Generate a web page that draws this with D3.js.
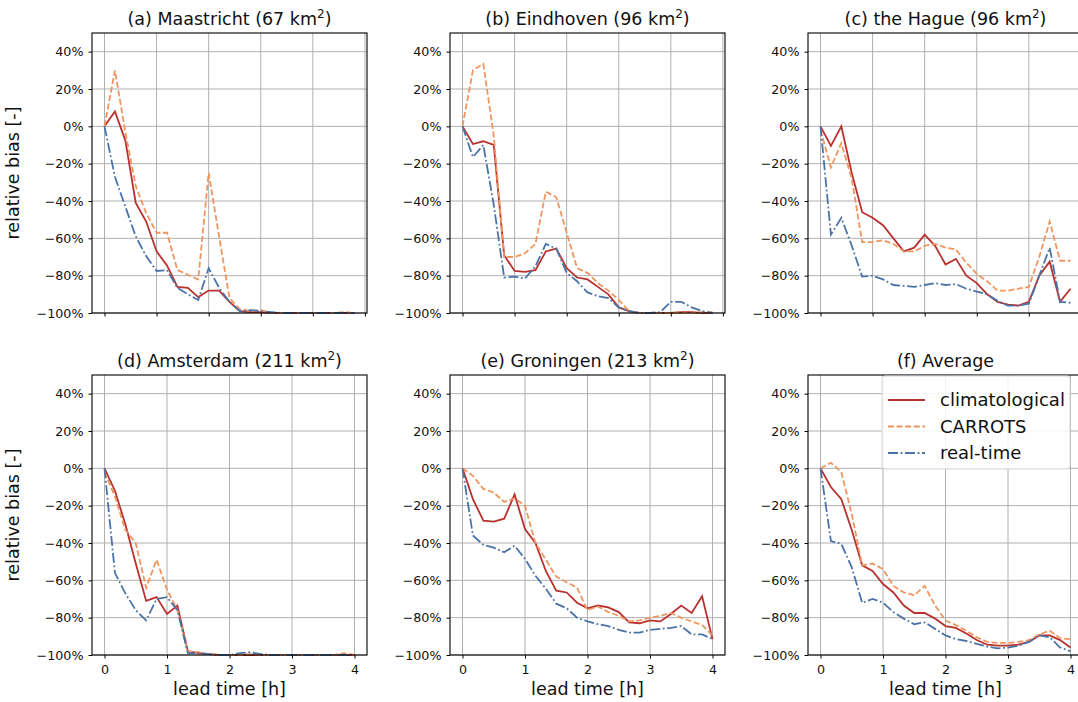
<!DOCTYPE html>
<html>
<head>
    <title>Relative bias per city</title>
    <script src="https://cdnjs.cloudflare.com/ajax/libs/d3/7.8.5/d3.min.js"></script>
    <style>
        body { margin: 0; background: #fff; }
        svg text { font-family: 'DejaVu Sans', sans-serif; fill: #111; }
    </style>
</head>
<body>
<div id="chart"></div>
<script>
//------------------------------------DATA--------------------------------
// lead time in minutes, 10 minute steps
var leadMinutes = [0, 10, 20, 30, 40, 50, 60, 70, 80, 90, 100, 110, 120,
                   130, 140, 150, 160, 170, 180, 190, 200, 210, 220, 230, 240];

var panelTitles = ["(a) Maastricht (67 km", "(b) Eindhoven (96 km", "(c) the Hague (96 km",
                   "(d) Amsterdam (211 km", "(e) Groningen (213 km", "(f) Average"];
var panelSup = ["2", "2", "2", "2", "2", ""];

var seriesNames = ["climatological", "CARROTS", "real-time"];
var yTicks = [-100, -80, -60, -40, -20, 0, 20, 40];
var xTicksBottom = [0, 1, 2, 3, 4];           // hours, labelled
var xTicksTop = [0, 5, 10, 15, 20, 25];       // step index, top row (unlabelled)

// relative bias in %
var climMaastricht = [0, 8, -7.5, -41, -51, -67, -74.5, -86, -86.5, -91.5, -88, -88, -94, -99, -99.5, -99.5, -100, -100, -100, -100, -100, -100, -100, -100, -100];
var carrotsMaastricht = [0, 30, -3, -32, -46.5, -57, -57, -77, -79.5, -82, -25, -59, -92, -98, -99, -98.5, -100, -100, -100, -100, -100, -100, -100, -99.5, -100];
var realMaastricht = [0, -27, -43, -59, -69.5, -77.5, -77, -86.5, -90, -93, -76, -86.5, -94, -99, -98.5, -99, -99.5, -100, -100, -100, -100, -100, -100, -100, -100];

var climEindhoven = [0, -9.5, -8, -10, -69, -77.5, -78, -77, -67, -65.5, -76, -81, -82, -86, -90, -97, -99, -100, -100, -100, -100, -99.5, -99.5, -100, -100];
var carrotsEindhoven = [0, 30, 33.5, -5, -70, -70, -68, -63, -35, -38, -57, -76, -78.5, -84, -88, -93, -99, -100, -100, -100, -100, -100, -100, -99.5, -99.5];
var realEindhoven = [0, -16.5, -10, -42, -81, -80.5, -81.5, -75, -63, -65.5, -78.5, -83, -89, -91, -92, -97, -99, -100, -100, -99.5, -94, -94, -97, -99, -100];

var climHague = [0, -10.5, 0, -25, -46, -49, -53, -60, -67, -65, -58, -64, -74, -71, -80, -84, -90, -94, -95.5, -96, -94, -80, -72.5, -94, -87];
var carrotsHague = [-2, -22, -9, -28, -62, -62, -61, -63, -67, -67, -64, -63, -65, -66, -73, -79, -83, -88, -88, -87, -86, -70, -51, -72, -72];
var realHague = [0, -58, -49, -64, -80.5, -80, -82, -85, -85.5, -86, -85, -84, -85, -84.5, -87, -88.5, -90, -93.5, -96, -96, -95, -80, -65, -94, -94.5];

var climAmsterdam = [0, -12, -30, -51, -71, -69, -78, -73.5, -98, -99, -99.5, -100, -100, -100, -100, -100, -100, -100, -100, -100, -100, -100, -100, -100, -100];
var carrotsAmsterdam = [-2, -15, -33, -40, -64, -49, -65, -76, -98, -98.5, -99.5, -100, -100, -100, -99.5, -100, -100, -100, -100, -100, -100, -100, -100, -99, -100];
var realAmsterdam = [0, -56, -67, -76, -81.5, -70, -69, -76, -99, -99, -99.5, -100, -100, -99, -98.5, -99.5, -100, -100, -100, -100, -100, -100, -100, -100, -100];

var climGroningen = [0, -16.5, -28, -28.5, -27, -14, -32.5, -40, -55, -65.5, -66.5, -72, -75, -73.5, -74.5, -77, -82.5, -83, -81.5, -82, -78, -73.5, -77.5, -68.5, -91.5];
var carrotsGroningen = [0, -4, -11, -13, -18, -16, -20, -40, -49, -58, -61, -64, -76, -74, -77, -79, -82, -81.5, -80, -79, -77.5, -80, -82, -84, -89.5];
var realGroningen = [0, -36, -41, -42.5, -45, -41.5, -48.5, -57.5, -64.5, -72.5, -75, -80, -82, -83.5, -84.5, -86.5, -88, -88, -86.5, -86, -85.5, -84.5, -89, -89, -91.5];

var climAverage = [0, -10, -16.5, -33, -52, -55, -62, -66.5, -73.5, -77.5, -77.5, -80.5, -84.5, -85.5, -88.5, -92, -94.5, -95, -95, -94.5, -93, -89.5, -89.5, -92, -96];
var carrotsAverage = [0, 3, -2, -24.5, -52, -51, -54, -63, -66.5, -68, -63, -73.5, -81.5, -84, -87, -90.5, -93, -93.5, -93.5, -93, -92, -89, -87, -91, -91.5];
var realAverage = [0, -39, -40.5, -53, -72, -70, -72, -77, -80.5, -83.5, -82.5, -86, -89.5, -91.5, -92.5, -94, -95.5, -96.5, -96, -95, -93, -89.5, -90.5, -96, -98];

var panelData = [
    [climMaastricht, carrotsMaastricht, realMaastricht],
    [climEindhoven, carrotsEindhoven, realEindhoven],
    [climHague, carrotsHague, realHague],
    [climAmsterdam, carrotsAmsterdam, realAmsterdam],
    [climGroningen, carrotsGroningen, realGroningen],
    [climAverage, carrotsAverage, realAverage]
];
//------------------------------------FINISHED--------------------------------


//------------------------------------STYLES & LAYOUT--------------------------------
var colors = ["#b8312f", "#ef9660", "#4a74a8"];
var dashes = [null, "6,2.6", "10,2.6,1.8,2.6"];

var colLeft = [92, 450, 808],
    rowTop = [33, 375],
    pw = 275,
    ph = 280;

var svg = d3.select("#chart").append("svg")
    .attr("width", 1078)
    .attr("height", 702);

// shared scales (same for every panel, translated per panel)
var x = d3.scaleLinear().domain([-0.2, 4.2]).range([0, pw]);
var y = d3.scaleLinear().domain([-100, 50]).range([ph, 0]);

var line = d3.line()
    .x(function (d, i) { return x(leadMinutes[i] / 60); })
    .y(function (d) { return y(d); });
//------------------------------------FINISHED--------------------------------


//------------------------------------MAKES THE PANELS--------------------------------
panelData.forEach(function (series, p) {
    var row = Math.floor(p / 3), col = p % 3;
    var g = svg.append("g")
        .attr("transform", "translate(" + colLeft[col] + "," + rowTop[row] + ")");

    // x positions of vertical grid (top row uses step index ticks)
    var xGridHours = row === 0
        ? xTicksTop.map(function (k) { return leadMinutes[1] * k / 60; })
        : xTicksBottom;

    // grid
    g.append("g").selectAll("line.gy").data(yTicks).enter().append("line")
        .attr("x1", 0).attr("x2", pw)
        .attr("y1", function (d) { return y(d); })
        .attr("y2", function (d) { return y(d); })
        .attr("stroke", "#b0b0b0").attr("stroke-width", 1);
    g.append("g").selectAll("line.gx").data(xGridHours).enter().append("line")
        .attr("x1", function (d) { return x(d); })
        .attr("x2", function (d) { return x(d); })
        .attr("y1", 0).attr("y2", ph)
        .attr("stroke", "#b0b0b0").attr("stroke-width", 1);

    // lines
    series.forEach(function (vals, s) {
        g.append("path")
            .datum(vals)
            .attr("fill", "none")
            .attr("stroke", colors[s])
            .attr("stroke-width", 1.8)
            .attr("stroke-dasharray", dashes[s])
            .attr("d", line);
    });

    // y axis
    var yAx = g.append("g")
        .call(d3.axisLeft(y).tickValues(yTicks).tickSize(3.5).tickPadding(5)
            .tickFormat(function (d) { return (d < 0 ? "\u2212" + (-d) : d) + "%"; }));
    // x axis
    var xAx = g.append("g")
        .attr("transform", "translate(0," + ph + ")");
    if (row === 1) {
        xAx.call(d3.axisBottom(x).tickValues(xTicksBottom).tickSize(3.5).tickPadding(6)
            .tickFormat(d3.format("d")));
    } else {
        xAx.call(d3.axisBottom(x).tickValues(xGridHours).tickSize(3.5).tickFormat(""));
    }
    [yAx, xAx].forEach(function (a) {
        a.select(".domain").remove();
        a.selectAll(".tick line").attr("stroke", "#000").attr("stroke-width", 1);
        a.selectAll(".tick text").attr("font-size", "12.7px")
            .style("font-family", "'DejaVu Sans', sans-serif").attr("fill", "#111");
    });

    // frame
    g.append("rect")
        .attr("width", pw).attr("height", ph)
        .attr("fill", "none").attr("stroke", "#000").attr("stroke-width", 1.1);

    // title
    var t = g.append("text")
        .attr("x", pw / 2).attr("y", -8)
        .attr("text-anchor", "middle")
        .attr("font-size", "17.5px")
        .text(panelTitles[p]);
    if (panelSup[p]) {
        t.append("tspan").attr("dy", -7).attr("font-size", "12px").text(panelSup[p]);
        t.append("tspan").attr("dy", 7).text(")");
    }

    // axis labels
    if (col === 0) {
        g.append("text")
            .attr("transform", "translate(" + (-73) + "," + (ph / 2) + ") rotate(-90)")
            .attr("text-anchor", "middle")
            .attr("font-size", "17.5px")
            .text("relative bias [-]");
    }
    if (row === 1) {
        g.append("text")
            .attr("x", x(2)).attr("y", ph + 40)
            .attr("text-anchor", "middle")
            .attr("font-size", "17.5px")
            .text("lead time [h]");
    }

    // legend in last panel
    if (p === 5) {
        var lg = g.append("g").attr("transform", "translate(74,1)");
        lg.append("rect")
            .attr("width", 188).attr("height", 93).attr("rx", 3)
            .attr("fill", "#fff").attr("fill-opacity", 0.85)
            .attr("stroke", "#d6d6d6").attr("stroke-width", 1);
        seriesNames.forEach(function (name, s) {
            var yy = 24 + s * 26.5;
            lg.append("line")
                .attr("x1", 6).attr("x2", 43).attr("y1", yy).attr("y2", yy)
                .attr("stroke", colors[s]).attr("stroke-width", 1.8)
                .attr("stroke-dasharray", dashes[s]);
            lg.append("text")
                .attr("x", 58).attr("y", yy + 6)
                .attr("font-size", "18px")
                .text(name);
        });
    }
});
//------------------------------------FINISHED--------------------------------
</script>
</body>
</html>
